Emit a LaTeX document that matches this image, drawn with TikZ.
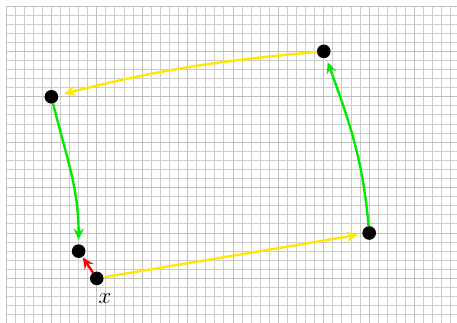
\documentclass[tikz,border=0pt]{standalone}
\usetikzlibrary{arrows.meta}
\definecolor{myyellow}{RGB}{255,232,0}
\definecolor{mygreen}{RGB}{0,235,0}
\definecolor{myred}{RGB}{255,0,0}
\tikzset{
  minorgrid/.style={draw=gray!40, line width=0.6pt},
  majorgrid/.style={draw=gray!50, line width=0.6pt},
  dot/.style={circle, fill=black, inner sep=0pt, minimum size=0.3cm, outer sep=0pt},
  vec/.style={line width=1.5pt, -{Stealth[length=7pt, width=6.5pt, inset=2.5pt]}, shorten >=3pt},
}
\begin{document}
\begin{tikzpicture}
\useasboundingbox (-0.132,-6.961) rectangle (9.934,0.132);
\clip (-0.132,-6.961) rectangle (9.934,0.132);
\draw[minorgrid, step=0.2] (0,-7.4) grid (10.4,0);
\draw[majorgrid, step=1] (0,-7.4) grid (10.4,0);

\node[dot] (A) at (1,-2) {};
\node[dot] (B) at (7,-1) {};
\node[dot] (C) at (8,-5) {};
\node[dot] (D) at (2,-6) {};
\node[dot] (E) at (1.6,-5.4) {};
\node (lx) at (2.18,-6.45) {\Large $x$};

\draw[vec, draw=myyellow, shorten >=4pt] (B) to[out=185, in=14] (A);
\draw[vec, draw=mygreen] (A) to[out=-76, in=90] (E);
\draw[vec, draw=myyellow] (D) -- (C);
\draw[vec, draw=mygreen] (C) to[out=95, in=-70] (B);
\draw[vec, draw=myred, shorten >=0.5pt] (D) -- (E);
\end{tikzpicture}
\end{document}
